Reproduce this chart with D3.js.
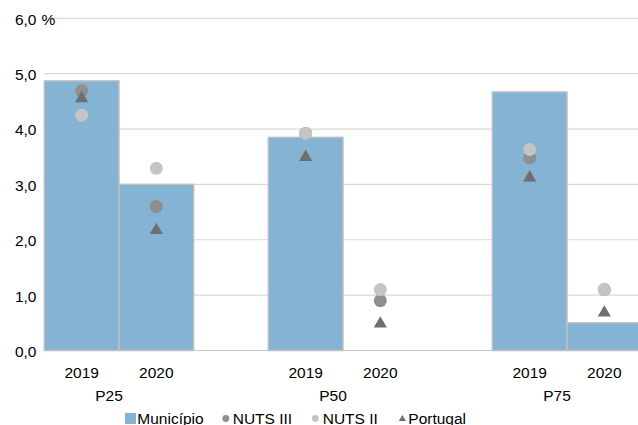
<!DOCTYPE html>
<html>
<head>
<meta charset="utf-8">
<script src="https://cdn.jsdelivr.net/npm/d3@7"></script>
<style>
  body { margin: 0; background: #fff; }
  text { font-family: "Liberation Sans", Arial, sans-serif; fill: #000; }
</style>
</head>
<body>
<div id="viz"></div>
<script>
const width = 638;
const height = 425;
const margin = {top: 18.3, left: 44.3, bottom: 74.5};
const fontSize = '15.5px';

// Data
const groups = ['P25', 'P50', 'P75'];
const years = ['2019', '2020'];
const municipio = [4.87, 3.0, 3.85, 0.0, 4.67, 0.5];
const nutsIII   = [4.69, 2.6, 3.92, 0.9, 3.48, 1.1];
const nutsII    = [4.25, 3.29, 3.92, 1.1, 3.63, 1.1];
const portugal  = [4.57, 2.19, 3.51, 0.5, 3.14, 0.7];
const yTicks = [0, 1, 2, 3, 4, 5, 6];
const legendLabels = ['Município', 'NUTS III', 'NUTS II', 'Portugal'];

const barFill = '#84b3d3';
const barStroke = '#c0c0c0';
const colNutsIII = '#8f8f8f';
const colNutsII = '#c4c4c4';
const colPortugal = '#6f6f6f';

// Build category slots, with an empty slot between groups
const slots = [];
const points = [];
groups.forEach((g, gi) => {
  if (gi > 0) slots.push('gap' + gi);
  years.forEach((y, yi) => {
    const key = g + '|' + y;
    slots.push(key);
    const i = gi * years.length + yi;
    points.push({key, group: g, year: y, municipio: municipio[i], nutsIII: nutsIII[i], nutsII: nutsII[i], portugal: portugal[i]});
  });
});

const svg = d3.select('#viz')
  .append('svg')
    .attr('width', width)
    .attr('height', height);

const slotW = 74.67;
const xScale = d3.scaleBand()
  .domain(slots)
  .range([margin.left, margin.left + slotW * slots.length])
  .padding(0);
const yScale = d3.scaleLinear()
  .domain([0, 6])
  .range([height - margin.bottom, margin.top]);

const fmt = v => d3.format('.1f')(v).replace('.', ',');

// Gridlines (the top one starts after the "%" label)
svg.append('g')
  .attr('class', 'grid')
  .selectAll('line')
  .data(yTicks)
  .join('line')
    .attr('x1', d => d === 6 ? 54 : margin.left)
    .attr('x2', width)
    .attr('y1', d => yScale(d))
    .attr('y2', d => yScale(d))
    .attr('stroke', d => d === 0 ? '#c8c8c8' : '#d9d9d9')
    .attr('stroke-width', 1.2);

// Y tick labels
svg.append('g')
  .selectAll('text')
  .data(yTicks)
  .join('text')
    .attr('x', 36.5)
    .attr('y', d => yScale(d) + 1)
    .attr('dy', '0.35em')
    .attr('text-anchor', 'end')
    .style('font-size', fontSize)
    .text(fmt);

svg.append('text')
  .attr('x', 41.5)
  .attr('y', yScale(6) + 1)
  .attr('dy', '0.35em')
  .style('font-size', fontSize)
  .text('%');

// Bars
svg.append('g')
  .attr('class', 'bars')
  .selectAll('rect')
  .data(points.filter(d => d.municipio > 0))
  .join('rect')
    .attr('x', d => xScale(d.key))
    .attr('y', d => yScale(d.municipio))
    .attr('width', xScale.bandwidth())
    .attr('height', d => yScale(0) - yScale(d.municipio))
    .attr('fill', barFill)
    .attr('stroke', barStroke)
    .attr('stroke-width', 1.5);

const cx = d => xScale(d.key) + xScale.bandwidth() / 2;
const tri = d3.symbol().type(d3.symbolTriangle);

// Markers
svg.append('g')
  .selectAll('circle')
  .data(points)
  .join('circle')
    .attr('cx', cx)
    .attr('cy', d => yScale(d.nutsIII))
    .attr('r', 6.5)
    .attr('fill', colNutsIII);
svg.append('g')
  .selectAll('circle')
  .data(points)
  .join('circle')
    .attr('cx', cx)
    .attr('cy', d => yScale(d.nutsII))
    .attr('r', 6.5)
    .attr('fill', colNutsII);
svg.append('g')
  .selectAll('path')
  .data(points)
  .join('path')
    .attr('d', tri.size(75))
    .attr('transform', d => `translate(${cx(d)},${yScale(d.portugal) + 1})`)
    .attr('fill', colPortugal);

// Category labels
svg.append('g')
  .selectAll('text')
  .data(points)
  .join('text')
    .attr('x', cx)
    .attr('y', 377.5)
    .attr('text-anchor', 'middle')
    .style('font-size', fontSize)
    .text(d => d.year);

svg.append('g')
  .selectAll('text')
  .data(groups)
  .join('text')
    .attr('x', g => xScale(g + '|' + years[1]) - 10)
    .attr('y', 400.5)
    .attr('text-anchor', 'middle')
    .style('font-size', fontSize)
    .text(g => g);

// Legend
const legend = svg.append('g').attr('class', 'legend');
const legendX = [125, 222.5, 312, 399];
const legendY = 418.5;
legend.append('rect')
  .attr('x', legendX[0]).attr('y', legendY - 5.5)
  .attr('width', 11).attr('height', 11)
  .attr('fill', barFill);
legend.append('circle')
  .attr('cx', legendX[1] + 3.3).attr('cy', legendY)
  .attr('r', 3.4).attr('fill', colNutsIII);
legend.append('circle')
  .attr('cx', legendX[2] + 3.3).attr('cy', legendY)
  .attr('r', 3.4).attr('fill', colNutsII);
legend.append('path')
  .attr('d', d3.symbol().type(d3.symbolTriangle).size(22)())
  .attr('transform', `translate(${legendX[3] + 3.4},${legendY + 0.5})`)
  .attr('fill', colPortugal);
const textX = [137.3, 232.7, 322.7, 408.3];
legend.selectAll('text')
  .data(legendLabels)
  .join('text')
    .attr('x', (d, i) => textX[i])
    .attr('y', 423.5)
    .style('font-size', fontSize)
    .text(d => d);
</script>
</body>
</html>
